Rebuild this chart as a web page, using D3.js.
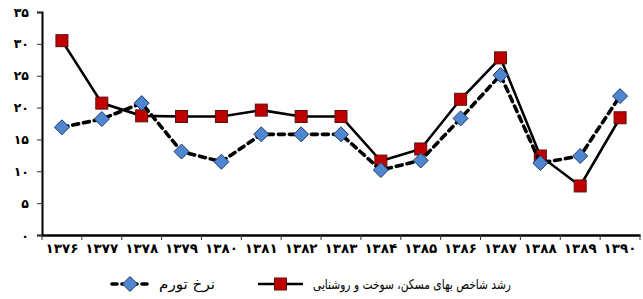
<!DOCTYPE html>
<html><head><meta charset="utf-8">
<script src="https://cdn.jsdelivr.net/npm/d3@7/dist/d3.min.js"></script>
<style>body{margin:0;background:#fff}svg{display:block}</style>
</head><body><svg id="c" width="643" height="299"></svg>
<script>
const years = ["1376","1377","1378","1379","1380","1381","1382","1383","1384","1385","1386","1387","1388","1389","1390"];
const housing = [30.5,20.7,18.7,18.6,18.6,19.6,18.6,18.6,11.6,13.5,21.3,27.8,12.4,7.7,18.4];
const inflation = [16.9,18.2,20.7,13.1,11.5,15.8,15.8,15.8,10.2,11.7,18.3,25.1,11.3,12.4,21.8];
const yTicks = [0,5,10,15,20,25,30,35];
const seriesNames = ["رشد شاخص بهای مسکن، سوخت و روشنایی","نرخ تورم"];

const fa = s => String(s).replace(/\d/g, d => "۰۱۲۳۴۵۶۷۸۹"[+d]);
const svg = d3.select("#c");
const L = 42, R = 640, T = 12, B = 235;
const x = d3.scaleBand().domain(years).range([L, R]);
const y = d3.scaleLinear().domain([0, 35]).range([B, T]);
const font = "DejaVu Sans";

// y axis
const ya = svg.append("g").attr("transform", `translate(${L},0)`)
  .call(d3.axisLeft(y).tickValues(yTicks).tickSize(5).tickPadding(8).tickFormat(fa));
ya.select(".domain").attr("stroke", "#000").attr("stroke-width", 2);
ya.selectAll(".tick line").attr("stroke", "#333").attr("stroke-width", 1);
ya.selectAll("text").attr("font-family", font).attr("font-size", 12.5).attr("font-weight", "bold").attr("fill", "#000");

// x axis
const xa = svg.append("g").attr("transform", `translate(0,${B})`)
  .call(d3.axisBottom(x).tickSize(0).tickPadding(8).tickFormat(fa));
xa.select(".domain").attr("stroke", "#000").attr("stroke-width", 2.5);
xa.selectAll("text").attr("font-family", font).attr("font-size", 13.5).attr("font-weight", "bold").attr("fill", "#000");
xa.selectAll(".bnd").data(years.concat(["end"])).enter().append("line")
  .attr("x1", (d, i) => L + i * x.step()).attr("x2", (d, i) => L + i * x.step())
  .attr("y1", 0).attr("y2", 5).attr("stroke", "#333").attr("stroke-width", 1);

const cx = d => x(d) + x.bandwidth() / 2;
const line = arr => d3.line().x((d, i) => cx(years[i])).y(d => y(d))(arr);

// housing series
svg.append("path").attr("d", line(housing)).attr("fill", "none").attr("stroke", "#000").attr("stroke-width", 2.6);
svg.selectAll(".sq").data(housing).enter().append("rect")
  .attr("x", (d, i) => cx(years[i]) - 6).attr("y", d => y(d) - 6).attr("width", 12).attr("height", 12)
  .attr("fill", "#C00000").attr("stroke", "#5a1010").attr("stroke-width", 1);

// inflation series
svg.append("path").attr("d", line(inflation)).attr("fill", "none").attr("stroke", "#000")
  .attr("stroke-width", 3.6).attr("stroke-dasharray", "6,5").attr("stroke-linecap", "round");
const dia = (px, py, r) => `M${px},${py - r}L${px + r},${py}L${px},${py + r}L${px - r},${py}Z`;
svg.selectAll(".dm").data(inflation).enter().append("path")
  .attr("d", (d, i) => dia(cx(years[i]), y(d), 7.5))
  .attr("fill", "#4F86D0").attr("stroke", "#1f3a66").attr("stroke-width", 1);

// legend
const ly = 284;
const lg = svg.append("g");
lg.append("line").attr("x1", 258).attr("x2", 303).attr("y1", ly).attr("y2", ly).attr("stroke", "#000").attr("stroke-width", 2.6);
lg.append("rect").attr("x", 274.5).attr("y", ly - 6).attr("width", 12).attr("height", 12).attr("fill", "#C00000").attr("stroke", "#5a1010");
lg.append("text").attr("x", 511).attr("y", ly + 5).attr("text-anchor", "start").attr("direction", "rtl")
  .attr("font-family", font).attr("font-size", 13.5).attr("textLength", 198).attr("lengthAdjust", "spacingAndGlyphs")
  .text(seriesNames[0]);
lg.append("line").attr("x1", 112).attr("x2", 148).attr("y1", ly).attr("y2", ly).attr("stroke", "#000")
  .attr("stroke-width", 3.6).attr("stroke-dasharray", "5,5").attr("stroke-linecap", "round");
lg.append("path").attr("d", dia(130, ly, 7.5)).attr("fill", "#4F86D0").attr("stroke", "#1f3a66");
lg.append("text").attr("x", 215).attr("y", ly + 5).attr("text-anchor", "start").attr("direction", "rtl")
  .attr("font-family", font).attr("font-size", 14).attr("textLength", 56).attr("lengthAdjust", "spacingAndGlyphs")
  .text(seriesNames[1]);
</script></body></html>
